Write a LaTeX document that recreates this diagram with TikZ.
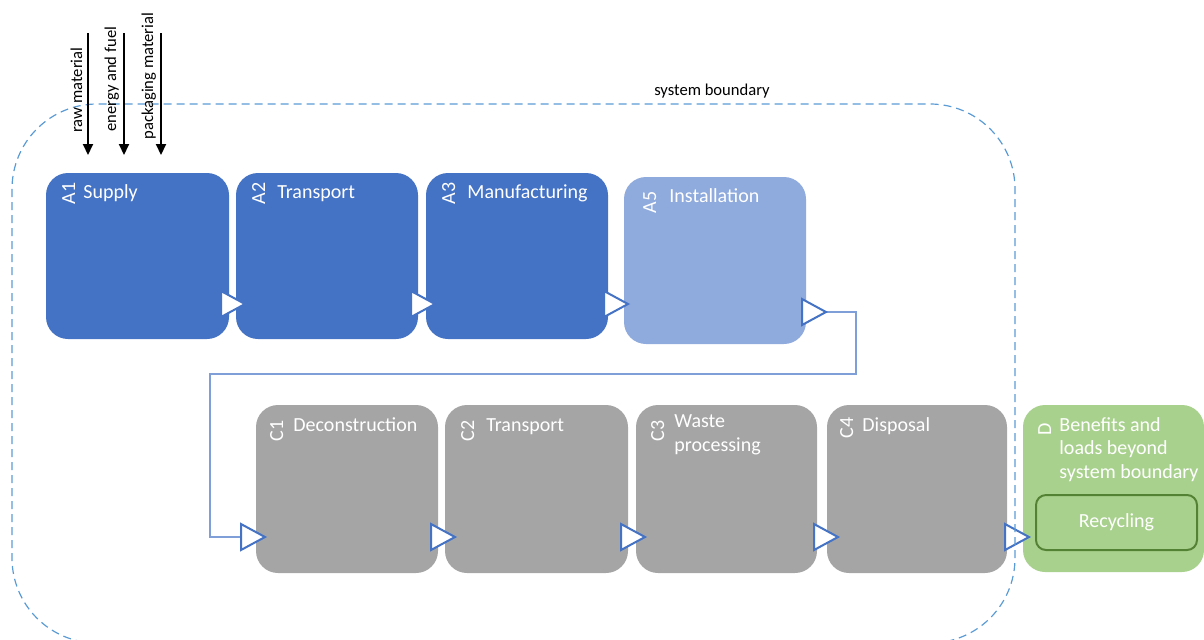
\documentclass[tikz,border=0pt]{standalone}
\usepackage{fontspec}
\setmainfont{Carlito}
\usetikzlibrary{arrows.meta}
\definecolor{ablue}{HTML}{4472C4}
\definecolor{alight}{HTML}{8FAADC}
\definecolor{cgrey}{HTML}{A5A5A5}
\definecolor{dgreen}{HTML}{A9D18E}
\definecolor{rgreen}{HTML}{548235}
\definecolor{bound}{HTML}{5B9BD5}
\definecolor{elbow}{HTML}{7F9FD8}
\tikzset{
  stage/.style={rectangle, rounded corners=11pt, inner sep=0pt, draw=none},
  lbl/.style={text=white, font=\fontsize{10}{12}\selectfont, inner sep=0pt},
  code/.style={lbl, rotate=90, anchor=base east},
  txt/.style={lbl, anchor=base west},
  small/.style={font=\fontsize{8.3}{10}\selectfont, inner sep=0pt, text=black},
  inarrow/.style={line width=1pt, black, -{Triangle[width=5pt,length=5.5pt]}},
  flowtip/.pic={\draw[ablue, line width=1pt, fill=white, line join=miter] (-24,-13) -- (0,0) -- (-24,13) -- cycle;},
  elbowline/.style={elbow, line width=0.8pt}
}
\begin{document}
\begin{tikzpicture}[x=0.5pt,y=-0.5pt]
\useasboundingbox (0,0) rectangle (1204,639);

% stages
\node[stage, fill=ablue, minimum width=91.5pt, minimum height=83pt] (A1) at (137.5,256) {};
\node[stage, fill=ablue, minimum width=91pt, minimum height=83pt] (A2) at (327,256) {};
\node[stage, fill=ablue, minimum width=91pt, minimum height=83pt] (A3) at (517,256) {};
\node[stage, fill=alight, minimum width=91pt, minimum height=83.5pt] (A5) at (715,260.5) {};
\node[stage, fill=cgrey, minimum width=91pt, minimum height=84pt] (C1) at (347,489) {};
\node[stage, fill=cgrey, minimum width=91.5pt, minimum height=84pt] (C2) at (536.5,489) {};
\node[stage, fill=cgrey, minimum width=90.5pt, minimum height=84pt] (C3) at (726.5,489) {};
\node[stage, fill=cgrey, minimum width=90pt, minimum height=84pt] (C4) at (917,489) {};
\node[stage, fill=dgreen, minimum width=90.5pt, minimum height=83.5pt] (D) at (1113.5,488.5) {};
\node[rectangle, rounded corners=5pt, fill=dgreen, draw=rgreen, line width=1pt,
      minimum width=80.5pt, minimum height=27.5pt, inner sep=0pt, text=white,
      font=\fontsize{10}{12}\selectfont] (rec) at (1116.5,522.5) {Recycling};

% stage texts
\node[code] (cA1) at (75,182) {A1};
\node[txt] (tA1) at (83,198) {Supply};
\node[code] (cA2) at (265,182) {A2};
\node[txt] (tA2) at (277,198) {Transport};
\node[code] (cA3) at (455,182) {A3};
\node[txt] (tA3) at (467,198) {Manufacturing};
\node[code] (cA5) at (656,191) {A5};
\node[txt] (tA5) at (669,202) {Installation};
\node[code] (cC1) at (283,420) {C1};
\node[txt] (tC1) at (293,431) {Deconstruction};
\node[code] (cC2) at (474,420) {C2};
\node[txt] (tC2) at (486,431) {Transport};
\node[code] (cC3) at (664,420) {C3};
\node[txt] (tC3) at (674,427) {\fontsize{10}{12}\selectfont\begin{tabular}[t]{@{}l@{}}Waste\\processing\end{tabular}};
\node[code] (cC4) at (853,417) {C4};
\node[txt] (tC4) at (862,431) {Disposal};
\node[code] (cD) at (1051,423) {D};
\node[txt] (tD) at (1059,431) {\fontsize{10}{11.75}\selectfont\begin{tabular}[t]{@{}l@{}}Benefits and\\loads beyond\\system boundary\end{tabular}};

% flow connectors
\coordinate (t1) at (245,304);
\coordinate (t2) at (435,304);
\coordinate (t3) at (628,304);
\coordinate (t4) at (826,312);
\coordinate (t5) at (265,537);
\coordinate (t6) at (455,537);
\coordinate (t7) at (645,537);
\coordinate (t8) at (838,537);
\coordinate (t9) at (1029,537);
\coordinate (e1) at (856,312);
\coordinate (e2) at (856,374);
\coordinate (e3) at (210,374);
\coordinate (e4) at (210,537);
\draw[elbowline] (t4) -- (e1) -- (e2) -- (e3) -- (e4) -- (t5);
\foreach \t in {t1,t2,t3,t4,t5,t6,t7,t8,t9} \pic at (\t) {flowtip};

% system boundary
\begin{scope}
\clip (0,0) rectangle (1204,639);
\draw[bound, line width=0.6pt, dash pattern=on 4pt off 2.5pt, rounded corners=42.5pt] (12,104) rectangle (1015,643);
\end{scope}
\node[small, anchor=base] (sb) at (712,95) {system boundary};

% inputs
\coordinate (i1s) at (88,33);  \coordinate (i1e) at (88,155);
\coordinate (i2s) at (124,33); \coordinate (i2e) at (124,155);
\coordinate (i3s) at (161,33); \coordinate (i3e) at (161,155);
\draw[inarrow] (i1s) -- (i1e);
\draw[inarrow] (i2s) -- (i2e);
\draw[inarrow] (i3s) -- (i3e);
\node[small, rotate=90, anchor=base west] (l1) at (82,133) {raw material};
\node[small, rotate=90, anchor=base west] (l2) at (116,132) {energy and fuel};
\node[small, rotate=90, anchor=base west] (l3) at (153,140) {packaging material};
\end{tikzpicture}
\end{document}
